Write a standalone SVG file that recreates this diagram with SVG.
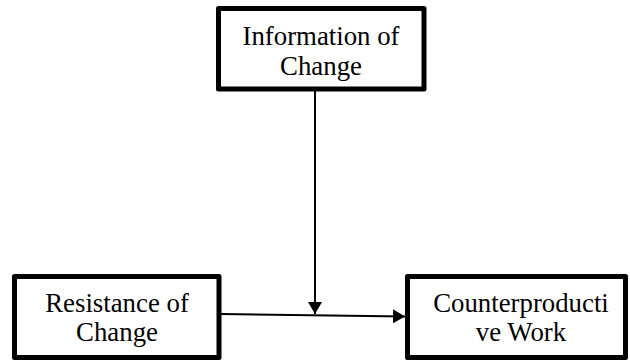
<svg xmlns="http://www.w3.org/2000/svg" width="630" height="360" viewBox="0 0 630 360">
  <defs>
    <style>
      .box { fill: #ffffff; stroke: #000000; stroke-width: 5; stroke-linejoin: round; }
      .lbl { font-family: "Liberation Serif", "Times New Roman", serif; font-size: 26.8px; fill: #000000; text-anchor: middle; }
      .edge { stroke: #000000; stroke-width: 2; fill: none; }
    </style>
    <marker id="arrow" markerWidth="12" markerHeight="14" refX="12" refY="7" orient="auto" markerUnits="userSpaceOnUse">
      <path d="M0,0 L12,7 L0,14 Z" fill="#000000"/>
    </marker>
  </defs>
  <rect width="630" height="360" fill="#ffffff"/>
  <g id="connectors">
    <line class="edge" x1="315" y1="90" x2="315" y2="314" marker-end="url(#arrow)"/>
    <line class="edge" x1="221" y1="314" x2="405" y2="316.5" marker-end="url(#arrow)"/>
  </g>
  <g id="node-information">
    <rect class="box" x="218.5" y="8.5" width="205.5" height="80.5"/>
    <text class="lbl" x="321" y="45">Information of</text>
    <text class="lbl" x="321" y="75">Change</text>
  </g>
  <g id="node-resistance">
    <rect class="box" x="14.5" y="276.5" width="204.5" height="81"/>
    <text class="lbl" x="117" y="312">Resistance of</text>
    <text class="lbl" x="117" y="341">Change</text>
  </g>
  <g id="node-counterproductive">
    <rect class="box" x="407.5" y="276.5" width="218" height="81"/>
    <text class="lbl" x="521" y="312">Counterproducti</text>
    <text class="lbl" x="521" y="341">ve Work</text>
  </g>
</svg>
